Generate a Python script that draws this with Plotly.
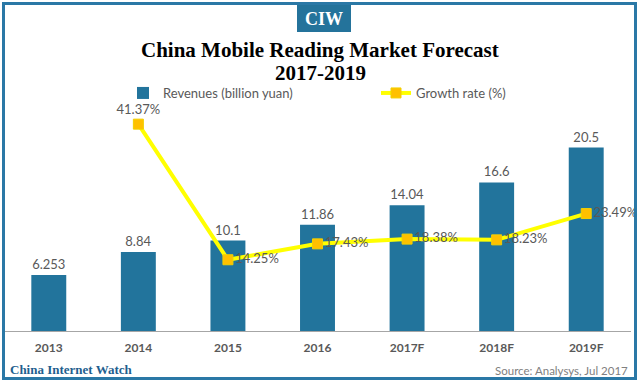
import plotly.graph_objects as go

years = ["2013", "2014", "2015", "2016", "2017F", "2018F", "2019F"]
revenues = [6.253, 8.84, 10.1, 11.86, 14.04, 16.6, 20.5]
growth_years = ["2014", "2015", "2016", "2017F", "2018F", "2019F"]
growth = [41.37, 14.25, 17.43, 18.38, 18.23, 23.49]
rev_labels = ["6.253", "8.84", "10.1", "11.86", "14.04", "16.6", "20.5"]

W, H = 640, 382
L, R, T, B = 4, 631, 100, 331  # plot area in px


def px(x):
    return (x - L) / (R - L)


def py(y):
    return (B - y) / (B - T)


SANS = "Lato, 'DejaVu Sans', sans-serif"
SERIF = "'Liberation Serif', 'DejaVu Serif', serif"
GRAY = "#595959"
BLUE = "#22749C"

fig = go.Figure()
fig.add_trace(go.Bar(
    x=years, y=revenues, name="Revenues (billion yuan)", legend="legend",
    marker=dict(color=BLUE, line=dict(width=0)),
    text=rev_labels, textposition="outside", cliponaxis=False,
    textfont=dict(family=SANS, size=13, color=GRAY),
))
fig.add_trace(go.Scatter(
    x=growth_years, y=growth, yaxis="y2", name="Growth rate (%)",
    legend="legend2",
    mode="lines+markers+text",
    line=dict(color="#FFFF00", width=4),
    marker=dict(symbol="square", size=10, color="#FFC000",
                line=dict(color="#F2D000", width=1)),
    text=[f"{g:.2f}%" for g in growth],
    textposition=["top center"] + ["middle right"] * 5,
    textfont=dict(family=SANS, size=13, color=GRAY),
    cliponaxis=False,
))

leg_common = dict(orientation="h", xanchor="left", yanchor="middle",
                  y=py(93), font=dict(family=SANS, size=13, color=GRAY),
                  bgcolor="rgba(0,0,0,0)")

fig.update_layout(
    width=W, height=H,
    margin=dict(l=L, r=W - R, t=T, b=H - B, autoexpand=False),
    paper_bgcolor="white", plot_bgcolor="white",
    bargap=0.61,
    showlegend=True,
    legend=dict(x=px(123), **leg_common),
    legend2=dict(x=px(376), **leg_common),
    xaxis=dict(showline=True, linecolor="#A6A6A6", linewidth=1,
               ticks="outside", ticklen=6, tickcolor="rgba(0,0,0,0)",
               tickfont=dict(family=SANS, size=12, color=GRAY, weight="bold"),
               showgrid=False),
    yaxis=dict(range=[0, (B - T) / 8.95], visible=False, showgrid=False,
               zeroline=False),
    yaxis2=dict(range=[0, (B - T) / 5.0], overlaying="y", visible=False,
                showgrid=False, zeroline=False),
)

shapes = [
    dict(type="rect", xref="paper", yref="paper",
         x0=px(3.5), x1=px(635.5), y0=py(378.5), y1=py(3.5),
         line=dict(color="#2A78A6", width=3), fillcolor="rgba(0,0,0,0)",
         layer="above"),
    dict(type="rect", xref="paper", yref="paper",
         x0=px(297), x1=px(351), y0=py(32), y1=py(5),
         line=dict(width=0), fillcolor="#24739B"),
]
fig.update_layout(shapes=shapes)

fig.add_annotation(text="China Mobile Reading Market Forecast", xref="paper",
                   yref="paper", x=px(320), y=py(50), showarrow=False,
                   xanchor="center", yanchor="middle",
                   font=dict(family=SERIF, size=21, color="black", weight="bold"))
fig.add_annotation(text="2017-2019", xref="paper",
                   yref="paper", x=px(320), y=py(73), showarrow=False,
                   xanchor="center", yanchor="middle",
                   font=dict(family=SERIF, size=21, color="black", weight="bold"))
fig.add_annotation(text="CIW", xref="paper", yref="paper", x=px(324), y=py(19),
                   showarrow=False, xanchor="center", yanchor="middle",
                   font=dict(family=SERIF, size=18, color="white", weight="bold"))
fig.add_annotation(text="China Internet Watch", xref="paper", yref="paper",
                   x=px(8), y=py(369), showarrow=False, xanchor="left",
                   yanchor="middle",
                   font=dict(family=SERIF, size=13, color="#1F5F8F", weight="bold"))
fig.add_annotation(text="Source: Analysys, Jul 2017", xref="paper", yref="paper",
                   x=px(630), y=py(370), showarrow=False, xanchor="right",
                   yanchor="middle",
                   font=dict(family=SANS, size=11.5, color="#808080"))

fig.write_html(
    "out.html",
    config={"displayModeBar": False},
    post_script="document.body.style.margin='0';document.body.style.overflow='hidden';",
)
